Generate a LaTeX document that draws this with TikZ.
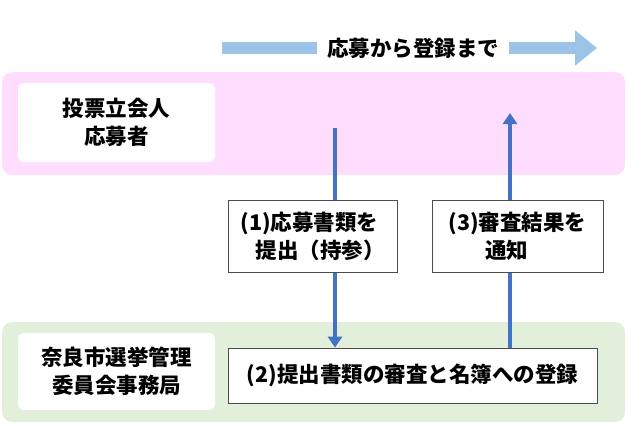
\documentclass[tikz,border=0pt]{standalone}
\usepackage{fontspec}
\setmainfont{Noto Sans CJK JP}
\usetikzlibrary{arrows.meta}
\definecolor{pinkb}{HTML}{FFDDFF}
\definecolor{greenb}{HTML}{E2EFDA}
\definecolor{arrb}{HTML}{4472C4}
\definecolor{lightb}{HTML}{9DC3E6}
\begin{document}
\begin{tikzpicture}[x=1pt,y=-1pt,
 band/.style={rounded corners=10pt},
 wbox/.style={fill=white,rounded corners=6pt,align=center,font=\fontsize{21.5}{28}\selectfont\bfseries},
 tbox/.style={fill=white,draw=black!70,line width=0.8pt,align=left,font=\fontsize{21.5}{28}\selectfont\bfseries},
 flow/.style={draw=arrb,line width=4pt,-{Triangle[length=11pt,width=14pt]}}]
\useasboundingbox (0,0) rectangle (644,425);
\fill[pinkb,band] (2,72) rectangle (625,175);
\fill[greenb,band] (2,322) rectangle (625,422);
\node[wbox,minimum width=197pt,minimum height=79pt] (a) at (116.5,122.5) {投票立会人\\応募者};
\node[wbox,minimum width=197pt,minimum height=77pt] (b) at (116.5,371.5) {奈良市選挙管理\\委員会事務局};
\node[tbox,minimum width=369pt,minimum height=55pt,align=center] (c2) at (412.5,375.5) {(2)提出書類の審査と名簿への登録};
\coordinate (d1) at (335,128);
\coordinate (u1) at (510,113);
\draw[flow] (d1) -- (d1 |- c2.north);
\draw[flow] (u1 |- c2.north) -- (u1);
\node[tbox,minimum width=169pt,minimum height=72pt,align=left] (c1) at (312.5,236) {(1)応募書類を\\\hspace*{0.7em}提出（持参）};
\node[tbox,minimum width=171pt,minimum height=72pt,align=left] (c3) at (517.5,236) {(3)審査結果を\\\hspace*{1.7em}通知};
\coordinate (s) at (222,48);
\coordinate (e) at (597,48);
\draw[lightb,line width=12pt,-{Triangle[length=22pt,width=34pt]}] (s) -- (e);
\node[fill=white,inner xsep=10pt,font=\fontsize{21.5}{28}\selectfont\bfseries] (t) at (413,48) {応募から登録まで};
\end{tikzpicture}
\end{document}
